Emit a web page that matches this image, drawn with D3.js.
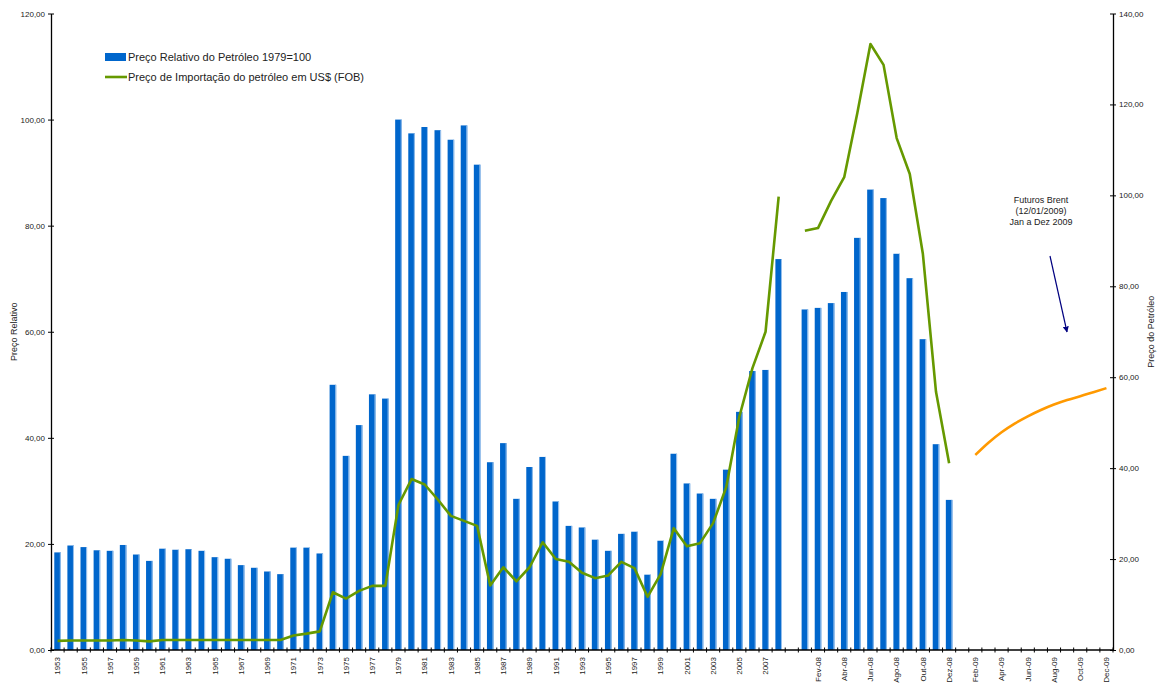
<!DOCTYPE html>
<html>
<head>
<meta charset="utf-8">
<script src="https://cdn.jsdelivr.net/npm/d3@7"></script>
<style>
  body { margin: 0; background: #fff; }
  text { font-family: Arial, "Liberation Sans", sans-serif; fill: #222; }
</style>
</head>
<body>
<svg id="chart" width="1157" height="684"></svg>
<script>
// categories: annual 1953-2008, one empty slot, months of 2008, months of 2009
const years = ['1953','1954','1955','1956','1957','1958','1959','1960','1961','1962',
  '1963','1964','1965','1966','1967','1968','1969','1970','1971','1972',
  '1973','1974','1975','1976','1977','1978','1979','1980','1981','1982',
  '1983','1984','1985','1986','1987','1988','1989','1990','1991','1992',
  '1993','1994','1995','1996','1997','1998','1999','2000','2001','2002',
  '2003','2004','2005','2006','2007','2008'];
const months08 = ['Jan-08','Fev-08','Mar-08','Abr-08','Mai-08','Jun-08','Jul-08','Ago-08','Set-08','Out-08','Nov-08','Dez-08'];
const months09 = ['Jan-09','Feb-09','Mar-09','Apr-09','May-09','Jun-09','Jul-09','Aug-09','Sep-09','Oct-09','Nov-09','Dec-09'];

// Preço Relativo do Petróleo 1979=100 (left axis)
const relAnnual = [18.4, 19.7, 19.4, 18.8, 18.7, 19.8, 18.0, 16.8, 19.1, 18.9,
  19.0, 18.7, 17.5, 17.2, 16.0, 15.5, 14.8, 14.3, 19.3, 19.3,
  18.2, 50.0, 36.6, 42.4, 48.2, 47.4, 100.0, 97.4, 98.6, 98.0,
  96.2, 98.9, 91.5, 35.4, 39.0, 28.5, 34.5, 36.4, 28.0, 23.4,
  23.1, 20.8, 18.7, 21.9, 22.3, 14.2, 20.6, 37.0, 31.4, 29.5,
  28.5, 34.0, 44.9, 52.6, 52.8, 73.7];
const relMonthly08 = [64.2, 64.5, 65.4, 67.5, 77.7, 86.8, 85.2, 74.7, 70.1, 58.6, 38.8, 28.3];

// Preço de Importação do petróleo em US$ (FOB) (right axis)
const impAnnual = [2.0, 2.1, 2.1, 2.1, 2.1, 2.2, 2.1, 1.9, 2.2, 2.2,
  2.2, 2.2, 2.2, 2.2, 2.2, 2.2, 2.2, 2.2, 3.2, 3.6,
  4.1, 12.7, 11.3, 13.0, 14.1, 14.1, 31.9, 37.6, 36.4, 33.1,
  29.5, 28.4, 27.3, 14.2, 18.2, 15.1, 18.2, 23.7, 20.0, 19.4,
  17.0, 15.8, 16.4, 19.4, 18.0, 11.7, 16.7, 26.8, 22.8, 23.5,
  27.9, 35.8, 51.3, 62.0, 70.0, 99.7];
const impMonthly08 = [92.2, 92.8, 98.8, 104.0, 118.1, 133.3, 128.7, 112.6, 104.7, 87.1, 56.8, 41.1];

// Futuros Brent (12/01/2009), Jan a Dez 2009
const brent09 = [null, 42.9, 45.6, 47.9, 49.8, 51.4, 52.8, 54.0, 55.0, 55.8, 56.7, 57.6];

const leftTicks = [0, 20, 40, 60, 80, 100, 120];
const rightTicks = [0, 20, 40, 60, 80, 100, 120, 140];

const gap = ' ';
const categories = [...years, gap, ...months08, ...months09];

const svg = d3.select('#chart');
const margin = {left: 51, right: 44, top: 13.5, bottom: 34};
const W = 1157, H = 684;
const x0 = margin.left, x1 = W - margin.right, yb = H - margin.bottom, yt = margin.top;

const x = d3.scaleBand().domain(categories).range([x0, x1]).padding(0);
const yL = d3.scaleLinear().domain([0, 120]).range([yb, yt]);
const yR = d3.scaleLinear().domain([0, 140]).range([yb, yt]);
const bw = x.bandwidth();
const cx = c => x(c) + bw / 2;
const fmt = d => d3.format('.2f')(d).replace('.', ',');

// bars
const barData = [
  ...years.map((c, i) => ({c, v: relAnnual[i]})),
  ...months08.map((c, i) => ({c, v: relMonthly08[i]}))
];
const barW = bw * 0.5;
const bars = svg.append('g').attr('class', 'bars');
bars.selectAll('rect.bar').data(barData).enter().append('rect')
  .attr('class', 'bar')
  .attr('x', d => cx(d.c) - barW / 2)
  .attr('y', d => yL(d.v))
  .attr('width', barW)
  .attr('height', d => yb - yL(d.v))
  .attr('fill', '#0066cc');
bars.selectAll('rect.hl').data(barData).enter().append('rect')
  .attr('class', 'hl')
  .attr('x', d => cx(d.c) + barW / 2 - 1)
  .attr('y', d => yL(d.v))
  .attr('width', 1)
  .attr('height', d => yb - yL(d.v))
  .attr('fill', '#9cc3ec');

// green line (annual, break, monthly 2008)
const greenData = [
  ...years.map((c, i) => ({c, v: impAnnual[i]})),
  {c: gap, v: null},
  ...months08.map((c, i) => ({c, v: impMonthly08[i]}))
];
const line = d3.line()
  .defined(d => d.v != null)
  .x(d => cx(d.c))
  .y(d => yR(d.v));
svg.append('path').datum(greenData)
  .attr('d', line)
  .attr('fill', 'none')
  .attr('stroke', '#669900')
  .attr('stroke-width', 2.6)
  .attr('stroke-linejoin', 'round');

// orange futures line
const orangeData = months09.map((c, i) => ({c, v: brent09[i]}));
svg.append('path').datum(orangeData)
  .attr('d', line.curve(d3.curveMonotoneX))
  .attr('fill', 'none')
  .attr('stroke', '#ff9900')
  .attr('stroke-width', 2.6);

// left axis
const gl = svg.append('g').attr('transform', `translate(${x0},0)`)
  .call(d3.axisLeft(yL).tickValues(leftTicks).tickFormat(fmt).tickSizeOuter(0).tickSizeInner(3));
gl.selectAll('.tick line').attr('x1', -3).attr('x2', 3);
gl.selectAll('.tick text').attr('x', -6).style('font-size', '8px');
gl.select('.domain').attr('stroke', '#000').attr('stroke-width', 1.3);

// right axis
const gr = svg.append('g').attr('transform', `translate(${x1},0)`)
  .call(d3.axisRight(yR).tickValues(rightTicks).tickFormat(fmt).tickSizeOuter(0).tickSizeInner(3));
gr.selectAll('.tick line').attr('x1', -3).attr('x2', 3);
gr.selectAll('.tick text').attr('x', 6).style('font-size', '8px');
gr.select('.domain').attr('stroke', '#000').attr('stroke-width', 1.3);

// bottom axis: ticks on band boundaries, labels on every other category
const gx = svg.append('g').attr('class', 'axis axis--x');
gx.append('line').attr('x1', x0).attr('x2', x1).attr('y1', yb).attr('y2', yb)
  .attr('stroke', '#000').attr('stroke-width', 1.3);
const bounds = [...categories.map(c => x(c)), x1];
gx.selectAll('line.tk').data(bounds).enter().append('line')
  .attr('class', 'tk')
  .attr('x1', d => d).attr('x2', d => d)
  .attr('y1', yb - 2.5).attr('y2', yb + 2.5)
  .attr('stroke', '#000');
gx.selectAll('text').data(categories.filter((c, i) => i % 2 === 0)).enter().append('text')
  .attr('transform', c => `translate(${cx(c)},${yb + 7}) rotate(-90)`)
  .attr('text-anchor', 'end')
  .attr('dy', '0.35em')
  .style('font-size', '8px')
  .text(c => c.trim());

// axis titles
svg.append('text')
  .attr('transform', `translate(14,${(yt + yb) / 2}) rotate(-90)`)
  .attr('text-anchor', 'middle').attr('dy', '0.35em')
  .style('font-size', '9px')
  .text('Preço Relativo');
svg.append('text')
  .attr('transform', `translate(1151,${(yt + yb) / 2}) rotate(-90)`)
  .attr('text-anchor', 'middle').attr('dy', '0.35em')
  .style('font-size', '9px')
  .text('Preço do Petróleo');

// legend
const lg = svg.append('g').attr('transform', 'translate(105,0)');
lg.append('rect').attr('x', 0).attr('y', 53).attr('width', 21).attr('height', 8).attr('fill', '#0066cc');
lg.append('text').attr('x', 23).attr('y', 61).style('font-size', '11px').text('Preço Relativo do Petróleo 1979=100');
lg.append('line').attr('x1', 0).attr('x2', 22).attr('y1', 77).attr('y2', 77)
  .attr('stroke', '#669900').attr('stroke-width', 2.6);
lg.append('text').attr('x', 23).attr('y', 81).style('font-size', '11px').text('Preço de Importação do petróleo em US$ (FOB)');

// annotation
const note = svg.append('text').attr('text-anchor', 'middle').style('font-size', '9px');
['Futuros Brent', '(12/01/2009)', 'Jan a Dez 2009'].forEach((t, i) => {
  note.append('tspan').attr('x', 1041).attr('y', 203 + i * 11).text(t);
});
svg.append('defs').append('marker')
  .attr('id', 'arr').attr('viewBox', '0 0 10 10').attr('refX', 9).attr('refY', 5)
  .attr('markerWidth', 5).attr('markerHeight', 5).attr('orient', 'auto')
  .append('path').attr('d', 'M0,0L10,5L0,10z').attr('fill', '#000080');
svg.append('line')
  .attr('x1', 1050).attr('y1', 256).attr('x2', 1067).attr('y2', 332)
  .attr('stroke', '#000080').attr('stroke-width', 1.2)
  .attr('marker-end', 'url(#arr)');
</script>
</body>
</html>
